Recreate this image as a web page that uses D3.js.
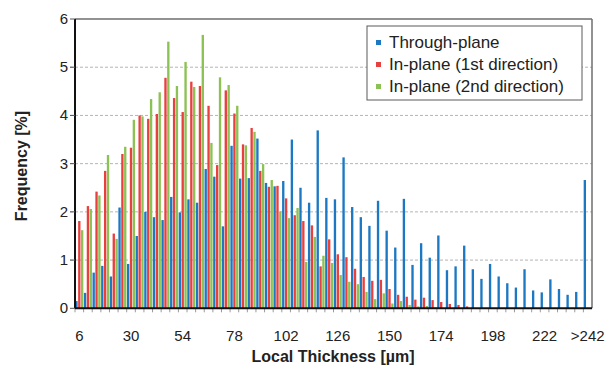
<!DOCTYPE html>
<html>
<head>
<meta charset="utf-8">
<script src="https://cdn.jsdelivr.net/npm/d3@7"></script>
<style>
  html, body { margin: 0; padding: 0; background: #fff; }
  svg { display: block; font-family: "Liberation Sans", Arial, sans-serif; }
</style>
</head>
<body>
<svg id="chart" width="614" height="369"></svg>
<script>
// Local thickness bins (µm); the last bin collects everything above 242.
const categories = [
  "6","10","14","18","22","26","30","34","38","42",
  "46","50","54","58","62","66","70","74","78","82",
  "86","90","94","98","102","106","110","114","118","122",
  "126","130","134","138","142","146","150","154","158","162",
  "166","170","174","178","182","186","190","194","198","202",
  "206","210","214","218","222","226","230","234","238",">242"
];

const seriesNames = ["Through-plane", "In-plane (1st direction)", "In-plane (2nd direction)"];

const throughPlane = [
  0.15, 0.32, 0.74, 0.88, 0.66, 2.09, 0.92, 1.50, 2.00, 1.89,
  1.83, 2.31, 1.99, 2.26, 2.19, 2.89, 2.73, 1.70, 3.37, 2.69,
  2.70, 3.52, 2.60, 2.53, 2.64, 3.50, 2.50, 2.19, 3.69, 2.29,
  2.26, 3.13, 2.10, 1.89, 1.71, 2.23, 1.61, 1.26, 2.27, 0.90,
  1.35, 1.05, 1.51, 0.79, 0.87, 1.30, 0.81, 0.61, 0.92, 0.66,
  0.52, 0.43, 0.81, 0.37, 0.33, 0.60, 0.40, 0.28, 0.34, 2.66
];

const inPlane1st = [
  1.81, 2.12, 2.42, 2.85, 1.55, 3.20, 3.33, 4.00, 3.93, 4.03,
  4.78, 4.36, 4.07, 4.70, 4.61, 4.20, 2.97, 4.52, 4.04, 3.40,
  3.74, 2.85, 2.52, 2.54, 2.28, 1.93, 1.81, 1.72, 0.87, 1.43,
  1.12, 1.06, 0.82, 0.65, 0.57, 0.59, 0.40, 0.28, 0.24, 0.18,
  0.22, 0.17, 0.13, 0.09, 0.07, 0.04, 0, 0, 0, 0,
  0, 0, 0, 0, 0, 0, 0, 0, 0, 0
];

const inPlane2nd = [
  1.62, 2.06, 2.34, 3.18, 1.44, 3.35, 3.91, 3.98, 4.34, 4.48,
  5.53, 4.61, 5.11, 4.59, 5.67, 3.43, 4.79, 4.63, 4.20, 3.38,
  3.66, 2.99, 2.66, 2.01, 1.87, 2.08, 0.96, 1.48, 1.09, 0.94,
  0.69, 0.55, 0.50, 0.34, 0.19, 0.31, 0.10, 0.15, 0.07, 0.04,
  0.05, 0.02, 0, 0, 0, 0, 0, 0, 0, 0,
  0, 0, 0, 0, 0, 0, 0, 0, 0, 0
];

const xTickLabels = ["6","30","54","78","102","126","150","174","198","222",">242"];
const yTicks = [0, 1, 2, 3, 4, 5, 6];

const colors = ["#1c78c3", "#e8403e", "#8cc153"];
const seriesValues = [throughPlane, inPlane1st, inPlane2nd];

const svg = d3.select("#chart");
const plot = { left: 75, right: 592, top: 19, bottom: 308.3 };

const x0 = d3.scaleBand().domain(categories).range([plot.left, plot.right]).padding(0);
const x1 = d3.scaleBand().domain(seriesNames).range([0, x0.bandwidth()])
  .paddingInner(0.18).paddingOuter(0.1);
const y = d3.scaleLinear().domain([0, 6]).range([plot.bottom, plot.top]);

// horizontal dashed gridlines
svg.append("g")
  .selectAll("line")
  .data(yTicks.filter(t => t > 0 && t < 6))
  .join("line")
  .attr("x1", plot.left - 5).attr("x2", plot.right)
  .attr("y1", d => y(d)).attr("y2", d => y(d))
  .attr("stroke", "#b4b4b4").attr("stroke-width", 1)
  .attr("stroke-dasharray", "3,2");

// bars
const rows = categories.map((c, i) => ({ cat: c, vals: seriesNames.map((s, k) => ({ s, k, v: seriesValues[k][i] })) }));
svg.append("g")
  .selectAll("g")
  .data(rows)
  .join("g")
  .attr("transform", d => `translate(${x0(d.cat)},0)`)
  .selectAll("rect")
  .data(d => d.vals)
  .join("rect")
  .attr("x", d => x1(d.s))
  .attr("width", x1.bandwidth())
  .attr("y", d => y(d.v))
  .attr("height", d => y(0) - y(d.v))
  .attr("fill", d => colors[d.k]);

// plot frame: gray top/right, black left/bottom
svg.append("line").attr("x1", plot.left).attr("x2", plot.right).attr("y1", plot.top).attr("y2", plot.top)
  .attr("stroke", "#6e6e6e").attr("stroke-width", 1.5);
svg.append("line").attr("x1", plot.right).attr("x2", plot.right).attr("y1", plot.top).attr("y2", plot.bottom)
  .attr("stroke", "#6e6e6e").attr("stroke-width", 1.5);

// x axis: minor ticks at category boundaries
const xAxisG = svg.append("g");
xAxisG.selectAll("line.tick")
  .data(categories)
  .join("line")
  .attr("class", "tick")
  .attr("x1", d => x0(d)).attr("x2", d => x0(d))
  .attr("y1", plot.bottom).attr("y2", plot.bottom + 4)
  .attr("stroke", "#9a9a9a").attr("stroke-width", 1);
xAxisG.append("line")
  .attr("x1", plot.left).attr("x2", plot.right)
  .attr("y1", plot.bottom).attr("y2", plot.bottom)
  .attr("stroke", "#111").attr("stroke-width", 2);
xAxisG.selectAll("text")
  .data(xTickLabels)
  .join("text")
  .attr("x", d => x0(d) + x0.bandwidth() / 2)
  .attr("y", 341)
  .attr("text-anchor", "middle")
  .attr("font-size", 15)
  .attr("fill", "#222")
  .text(d => d);

// y axis
const yAxisG = svg.append("g");
yAxisG.append("line")
  .attr("x1", plot.left).attr("x2", plot.left)
  .attr("y1", plot.top).attr("y2", plot.bottom)
  .attr("stroke", "#111").attr("stroke-width", 2);
yAxisG.selectAll("line.tick")
  .data(yTicks)
  .join("line")
  .attr("class", "tick")
  .attr("x1", plot.left - 5).attr("x2", plot.left)
  .attr("y1", d => y(d)).attr("y2", d => y(d))
  .attr("stroke", "#555").attr("stroke-width", 1);
yAxisG.selectAll("text")
  .data(yTicks)
  .join("text")
  .attr("x", 68)
  .attr("y", d => y(d) + 5)
  .attr("text-anchor", "end")
  .attr("font-size", 15)
  .attr("fill", "#222")
  .text(d => d);

// axis titles
svg.append("text")
  .attr("x", 333).attr("y", 362)
  .attr("text-anchor", "middle")
  .attr("font-size", 16).attr("font-weight", "bold").attr("fill", "#222")
  .text("Local Thickness [µm]");
svg.append("text")
  .attr("transform", "translate(27,166) rotate(-90)")
  .attr("text-anchor", "middle")
  .attr("font-size", 16).attr("font-weight", "bold").attr("fill", "#222")
  .text("Frequency [%]");

// legend
const legend = svg.append("g").attr("transform", "translate(367,26)");
legend.append("rect")
  .attr("width", 215).attr("height", 74)
  .attr("fill", "#fff").attr("stroke", "#5a5a5a").attr("stroke-width", 1);
const item = legend.selectAll("g.item")
  .data(seriesNames)
  .join("g")
  .attr("class", "item")
  .attr("transform", (d, i) => `translate(0,${16 + i * 22})`);
item.append("rect")
  .attr("x", 9).attr("y", -2).attr("width", 5).attr("height", 5)
  .attr("fill", (d, i) => colors[i]);
item.append("text")
  .attr("x", 22).attr("y", 6)
  .attr("font-size", 17).attr("fill", "#222")
  .text(d => d);
</script>
</body>
</html>
